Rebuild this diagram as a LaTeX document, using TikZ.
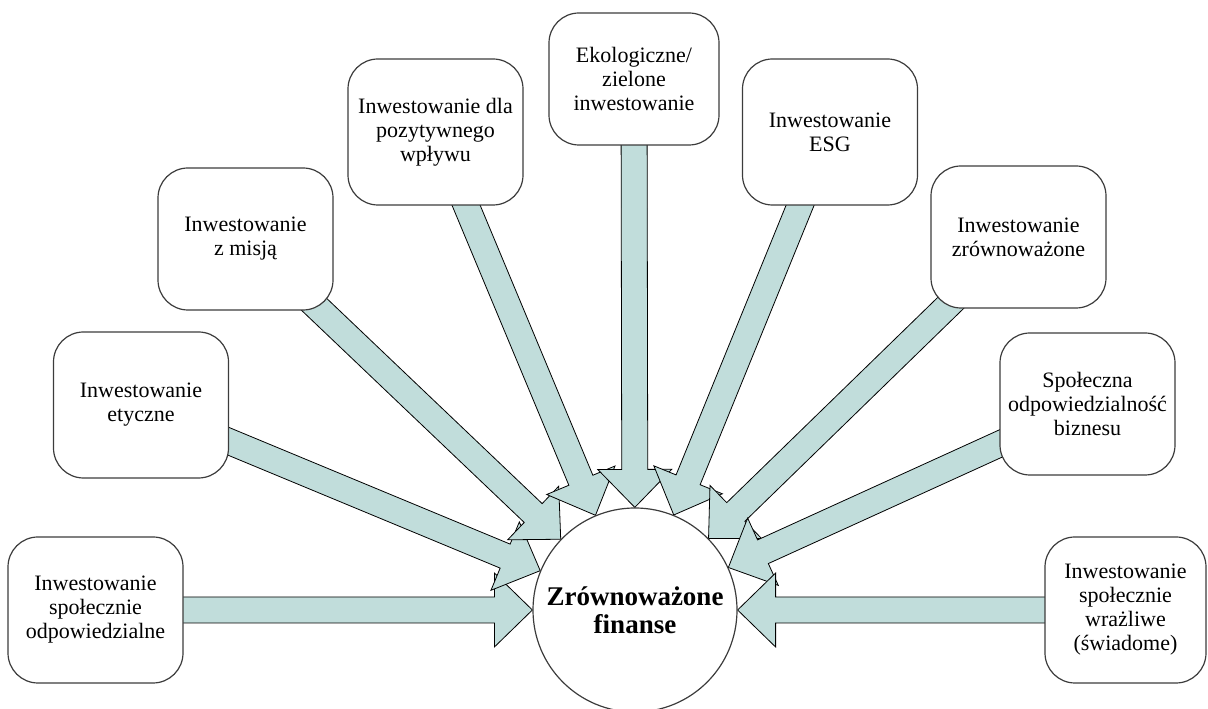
\documentclass[tikz,border=0pt]{standalone}
\usepackage{fontspec}
\setmainfont{Liberation Serif}
\usetikzlibrary{calc,backgrounds}
\definecolor{arrowteal}{RGB}{193,221,219}
\definecolor{boxline}{RGB}{60,60,60}
\tikzset{
  item/.style={draw=boxline, line width=1.2pt, fill=white, rounded corners=30pt,
    align=center, font=\fontsize{22}{24}\selectfont,
    minimum width=175pt, minimum height=146pt, inner sep=0pt},
  hub/.style={circle, draw=boxline, line width=1.2pt, fill=white,
    minimum size=204pt, inner sep=0pt, align=center,
    font=\bfseries\fontsize{27}{28}\selectfont},
  flow/.style={fill=arrowteal, draw=black, line width=0.8pt, line join=miter}
}
% block arrow from the centre of a box (hidden under it) to the rim of the hub
\newcommand\flowarrow[1]{%
  \path (#1.center) -- (fin) coordinate[pos=0] (fs) coordinate[pos=1] (ft);
  \coordinate (fh) at ($(ft)!38pt!(fs)$);
  \filldraw[flow] ($(fs)!13pt!90:(ft)$) -- ($(fh)!13pt!90:(ft)$)
    -- ($(fh)!37pt!90:(ft)$) -- (ft) -- ($(fh)!37pt!-90:(ft)$)
    -- ($(fh)!13pt!-90:(ft)$) -- ($(fs)!13pt!-90:(ft)$) -- cycle;
}
\begin{document}
\begin{tikzpicture}[x=1pt,y=1pt]
\useasboundingbox (0,0) rectangle (1208,709);

\node[hub] (fin) at (635,99) {Zrównoważone\\finanse};

\node[item] (b1) at (95.5,99) {Inwestowanie\\społecznie\\odpowiedzialne};
\node[item] (b2) at (141,304) {Inwestowanie\\etyczne};
\node[item, minimum height=142pt] (b3) at (245.5,470) {Inwestowanie\\z misją};
\node[item] (b4) at (435.5,577) {Inwestowanie dla\\pozytywnego\\wpływu};
\node[item, minimum width=170pt, minimum height=132pt] (b5) at (634,630) {Ekologiczne/\\zielone\\inwestowanie};
\node[item] (b6) at (830,577) {Inwestowanie\\ESG};
\node[item, minimum height=142pt] (b7) at (1018.5,472) {Inwestowanie\\zrównoważone};
\node[item, minimum height=142pt] (b8) at (1087.5,305) {Społeczna\\odpowiedzialność\\biznesu};
\node[item, minimum width=161pt] (b9) at (1125.5,99) {Inwestowanie\\społecznie\\wrażliwe\\(świadome)};

\begin{pgfonlayer}{background}
  \flowarrow{b1}
  \flowarrow{b2}
  \flowarrow{b3}
  \flowarrow{b4}
  \flowarrow{b5}
  \flowarrow{b6}
  \flowarrow{b7}
  \flowarrow{b8}
  \flowarrow{b9}
\end{pgfonlayer}
\end{tikzpicture}
\end{document}
